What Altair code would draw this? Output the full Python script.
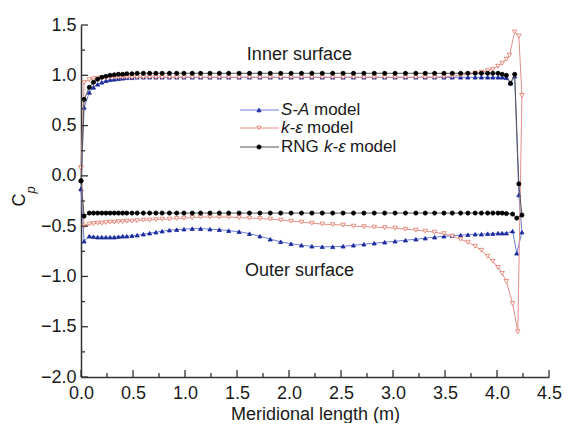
import altair as alt
import pandas as pd

# ---------------- data ----------------
grid = [0.03, 0.08, 0.12, 0.16, 0.20, 0.24, 0.28, 0.32, 0.36, 0.40,
        0.44, 0.49, 0.54, 0.60, 0.66, 0.72, 0.78, 0.85, 0.92, 0.99,
        1.07, 1.15, 1.24, 1.33, 1.42, 1.52, 1.62, 1.72, 1.82, 1.92,
        2.02, 2.12, 2.22, 2.32, 2.42, 2.52, 2.62, 2.72, 2.82, 2.92,
        3.02, 3.12, 3.22, 3.31, 3.40, 3.49, 3.57, 3.65, 3.72, 3.79,
        3.85, 3.91, 3.96, 4.01, 4.05, 4.09]

# S-A model
sa_lead = [0.0, -0.13]
sa_inner = [0.68, 0.83, 0.88, 0.91, 0.93, 0.945, 0.955, 0.96, 0.965, 0.97,
            0.975, 0.975, 0.98] + [0.98] * 41 + [0.98, 0.975]
sa_trail_x = [4.13, 4.17, 4.21, 4.24, 4.19, 4.15]
sa_trail_y = [0.92, 0.99, -0.19, -0.56, -0.77, -0.55]
sa_outer = [-0.65, -0.60, -0.605, -0.61, -0.61, -0.61, -0.61, -0.61, -0.605, -0.60,
            -0.60, -0.595, -0.59, -0.58, -0.57, -0.56, -0.55, -0.54, -0.535, -0.53,
            -0.525, -0.525, -0.53, -0.535, -0.545, -0.555, -0.575, -0.60, -0.63, -0.655,
            -0.675, -0.69, -0.70, -0.705, -0.705, -0.70, -0.69, -0.68, -0.67, -0.66,
            -0.65, -0.64, -0.63, -0.62, -0.61, -0.60, -0.595, -0.59, -0.585, -0.58,
            -0.58, -0.575, -0.575, -0.57, -0.57, -0.57]

# k-epsilon model
ke_lead = [0.0, 0.08]
ke_inner = [0.93, 0.955, 0.965, 0.97, 0.975, 0.975, 0.98] + [0.98] * 38 + \
           [0.985, 0.99, 1.0, 1.01, 1.02, 1.03, 1.045, 1.06, 1.09, 1.12, 1.16]
ke_trail_x = [4.12, 4.17, 4.21, 4.24, 4.20, 4.15]
ke_trail_y = [1.20, 1.43, 1.39, 0.80, -1.55, -1.27]
ke_outer = [-0.50, -0.48, -0.475, -0.47, -0.47, -0.465, -0.46, -0.46, -0.455, -0.455,
            -0.45, -0.45, -0.445, -0.44, -0.44, -0.435, -0.43, -0.43, -0.425, -0.42,
            -0.415, -0.41, -0.41, -0.41, -0.41, -0.415, -0.42, -0.425, -0.43, -0.44,
            -0.45, -0.46, -0.47, -0.48, -0.485, -0.49, -0.50, -0.505, -0.51, -0.515,
            -0.52, -0.53, -0.54, -0.55, -0.56, -0.575, -0.60, -0.63, -0.66, -0.70,
            -0.74, -0.80, -0.85, -0.91, -0.97, -1.05]

# RNG k-epsilon model
rng_lead = [0.0, -0.05]
rng_inner = [0.76, 0.88, 0.93, 0.96, 0.98, 0.99, 1.00, 1.005, 1.01, 1.01,
             1.015, 1.015, 1.02] + [1.02] * 40 + [1.02, 1.01, 1.00]
rng_trail_x = [4.13, 4.17, 4.21, 4.24, 4.19, 4.15]
rng_trail_y = [0.92, 1.01, -0.08, -0.39, -0.42, -0.38]
rng_outer = [-0.40] + [-0.37] * 54 + [-0.375]

series_names = ["S-A model", "k-ε model", "RNG k-ε model"]

ann_text = ["Inner surface", "Outer surface"]
ann_x = [2.10, 2.10]
ann_y = [1.20, -0.945]

x_major = [0.0, 0.5, 1.0, 1.5, 2.0, 2.5, 3.0, 3.5, 4.0, 4.5]
x_minor = [0.25, 0.75, 1.25, 1.75, 2.25, 2.75, 3.25, 3.75, 4.25]
y_major = [-2.0, -1.5, -1.0, -0.5, 0.0, 0.5, 1.0, 1.5]
y_minor = [-1.75, -1.25, -0.75, -0.25, 0.25, 0.75, 1.25]

# ---------------- build tables ----------------
def build(name, lead, inner, tx, ty, outer):
    xs = [lead[0]] + grid + tx + grid[::-1] + [lead[0]]
    ys = [lead[1]] + inner + ty + outer[::-1] + [lead[1]]
    return pd.DataFrame({"x": xs, "y": ys, "series": name,
                         "order": list(range(len(xs)))})

df_sa = build(series_names[0], sa_lead, sa_inner, sa_trail_x, sa_trail_y, sa_outer)
df_ke = build(series_names[1], ke_lead, ke_inner, ke_trail_x, ke_trail_y, ke_outer)
df_rng = build(series_names[2], rng_lead, rng_inner, rng_trail_x, rng_trail_y, rng_outer)

W, H = 468, 352
FONT = "Liberation Sans"

xscale = alt.Scale(domain=[0, 4.5], nice=False, zero=False)
yscale = alt.Scale(domain=[-2.0, 1.5], nice=False, zero=False)

x_axis = alt.Axis(values=x_major, format=".1f", ticks=False, tickSize=0, grid=False,
                  labelFlush=False, labelOverlap=False,
                  labelFont=FONT, labelFontSize=18, labelColor="#1a1a1a",
                  labelPadding=7, domainColor="#333333", domainWidth=1.5,
                  title="Meridional length (m)", titleFont=FONT, titleFontSize=18,
                  titleFontWeight="normal", titleColor="#1a1a1a", titlePadding=3)
y_axis = alt.Axis(values=y_major, format=".1f", ticks=False, tickSize=0, grid=False,
                  labelFlush=False, labelOverlap=False,
                  labelFont=FONT, labelFontSize=18, labelColor="#1a1a1a",
                  labelPadding=5, domainColor="#333333", domainWidth=1.5,
                  title=None)

X = alt.X("x:Q", scale=xscale, axis=x_axis)
Y = alt.Y("y:Q", scale=yscale, axis=y_axis)

styles = {
    series_names[0]: dict(line="#6f7fd8", shape="triangle-up", fill="#1a2a9c",
                          stroke="#1a2a9c", size=17),
    series_names[1]: dict(line="#e0908a", shape="triangle-down", fill="white",
                          stroke="#e07565", size=20),
    series_names[2]: dict(line="#555555", shape="circle", fill="#000000",
                          stroke="#000000", size=17),
}

layers = []
for df, name in [(df_sa, series_names[0]), (df_ke, series_names[1]), (df_rng, series_names[2])]:
    st = styles[name]
    line = alt.Chart(df).mark_line(color=st["line"], strokeWidth=1).encode(
        x=X, y=Y, order="order:Q")
    pts = alt.Chart(df).mark_point(shape=st["shape"], filled=False, fill=st["fill"],
                                   fillOpacity=1, stroke=st["stroke"], strokeWidth=0.8,
                                   size=st["size"], opacity=1).encode(x=X, y=Y)
    layers += [line, pts]

# inward tick marks
def xticks(vals, ln):
    return alt.Chart(pd.DataFrame({"x": vals})).mark_rule(
        color="#333333", strokeWidth=1.3).encode(
        x=X, y=alt.value(H), y2=alt.value(H - ln))

def yticks(vals, ln):
    return alt.Chart(pd.DataFrame({"y": vals})).mark_rule(
        color="#333333", strokeWidth=1.3).encode(
        y=Y, x=alt.value(0), x2=alt.value(ln))

layers += [xticks(x_major, 7), xticks(x_minor, 4), yticks(y_major, 7), yticks(y_minor, 4)]

# annotations
ann = alt.Chart(pd.DataFrame({"x": ann_x, "y": ann_y, "t": ann_text})).mark_text(
    font=FONT, fontSize=18, color="#1a1a1a", align="center", baseline="middle"
).encode(x=X, y=Y, text="t:N")
layers.append(ann)

# y-axis title C_p
cp_main = alt.Chart(pd.DataFrame({"t": ["C"]})).mark_text(
    font=FONT, fontSize=18, color="#1a1a1a", angle=270, align="center", baseline="middle"
).encode(x=alt.value(-61), y=alt.value(175), text="t:N")
cp_sub = alt.Chart(pd.DataFrame({"t": ["p"]})).mark_text(
    font=FONT, fontSize=13, fontStyle="italic", color="#1a1a1a", angle=270,
    align="center", baseline="middle"
).encode(x=alt.value(-50), y=alt.value(165), text="t:N")
layers += [cp_main, cp_sub]

# legend (drawn by hand, to allow mixed italic text)
leg_rows = [85, 103, 122]
leg = pd.DataFrame({
    "ly": leg_rows,
    "line": [styles[n]["line"] for n in series_names],
    "fill": [styles[n]["fill"] for n in series_names],
    "stroke": [styles[n]["stroke"] for n in series_names],
    "shape": [styles[n]["shape"] for n in series_names],
})
leg_line = alt.Chart(leg).mark_rule(strokeWidth=1).encode(
    x=alt.value(159), x2=alt.value(198), y=alt.Y("ly:Q", scale=None),
    color=alt.Color("line:N", scale=None))
leg_pt = alt.Chart(leg).mark_point(filled=False, fillOpacity=1, strokeWidth=0.8,
                                   size=18, opacity=1).encode(
    x=alt.value(178), y=alt.Y("ly:Q", scale=None),
    shape=alt.Shape("shape:N", scale=None),
    fill=alt.Fill("fill:N", scale=None),
    stroke=alt.Stroke("stroke:N", scale=None))
leg_reg = pd.DataFrame({"t": ["model", "model", "RNG", "model"],
                        "lx": [233, 226, 200, 269],
                        "ly": [leg_rows[0], leg_rows[1], leg_rows[2], leg_rows[2]]})
leg_it = pd.DataFrame({"t": ["S-A", "k-ε", "k-ε"],
                       "lx": [200, 200, 243],
                       "ly": [leg_rows[0], leg_rows[1], leg_rows[2]]})
leg_t1 = alt.Chart(leg_reg).mark_text(font=FONT, fontSize=17, color="#1a1a1a",
                                      align="left", baseline="middle").encode(
    x=alt.X("lx:Q", scale=None), y=alt.Y("ly:Q", scale=None), text="t:N")
leg_t2 = alt.Chart(leg_it).mark_text(font=FONT, fontSize=17, fontStyle="italic",
                                     color="#1a1a1a", align="left",
                                     baseline="middle").encode(
    x=alt.X("lx:Q", scale=None), y=alt.Y("ly:Q", scale=None), text="t:N")
layers += [leg_line, leg_pt, leg_t1, leg_t2]

chart = alt.layer(*layers).properties(
    width=W, height=H,
    autosize=alt.AutoSizeParams(type="none"),
    padding={"left": 73, "top": 17, "right": 13, "bottom": 46},
    background="white",
).configure_view(stroke=None)

chart.save("out.html", embed_options={"renderer": "svg", "actions": False})
